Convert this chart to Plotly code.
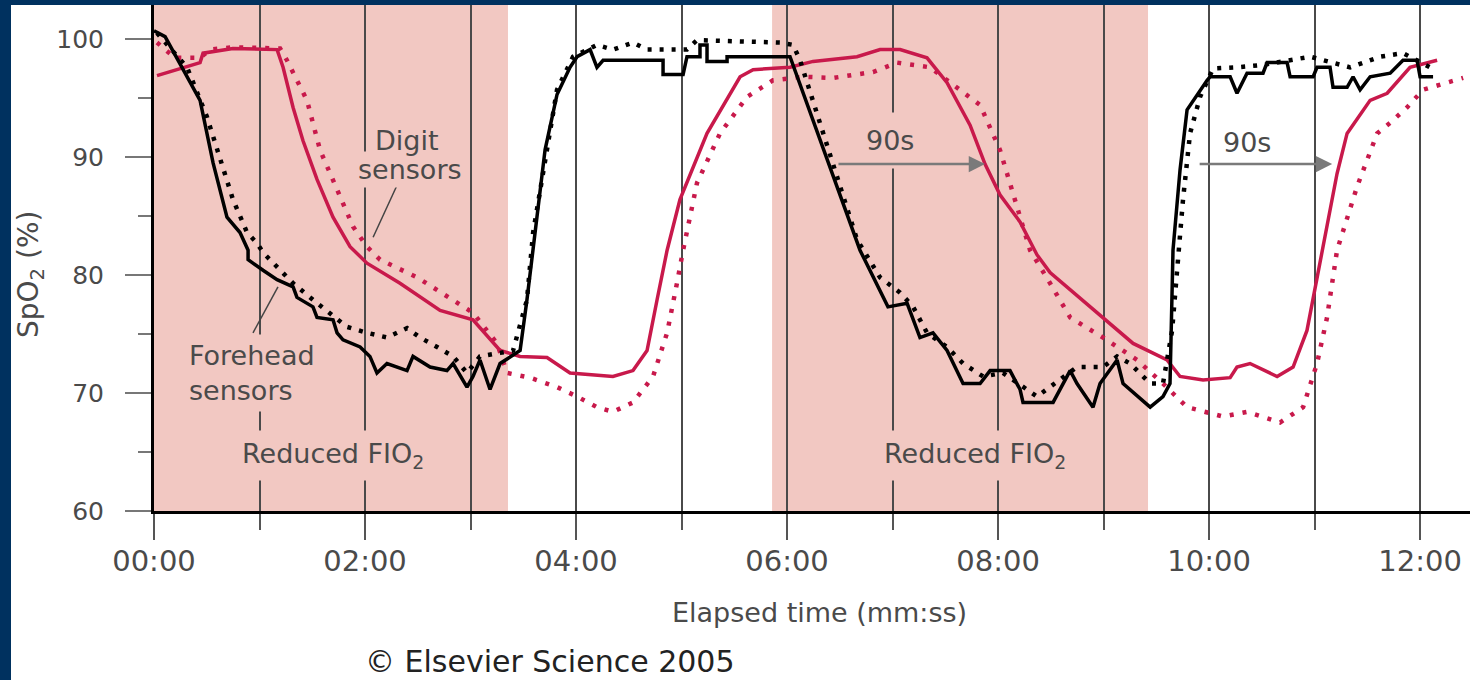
import plotly.graph_objects as go

# ---------------------------------------------------------
# DATA  (time in seconds, SpO2 in %)
# ---------------------------------------------------------
forehead_solid_t = [0, 6.3, 26.2, 33.6, 41.5, 48.9, 53.5, 53.5, 62.0, 70.0, 79.1, 81.3, 90.4, 92.7,
                    101.8, 104.1, 107.5, 117.2, 122.8, 126.8, 132.5, 143.9, 147.3, 157.0, 166.6,
                    170.1, 178.0, 181.4, 185.4, 191.1, 196.8, 208.2, 212.1, 215.6, 222.4, 229.2,
                    236.6, 240.6, 248.0, 251.9, 255.4, 289.5, 289.5, 300.9, 303.1, 310.5, 310.5,
                    314.5, 314.5, 325.9, 325.9, 361.7, 401.5, 417.4, 428.3, 435.6, 443.0, 451.0,
                    454.4, 460.1, 469.8, 475.5, 486.8, 492.5, 494.2, 511.3, 521.0, 524.9, 534.0,
                    538.0, 547.7, 551.1, 566.5, 573.8, 577.8, 579.0, 579.5, 583.5, 587.5, 598.9,
                    600.6, 612.0, 615.9, 621.6, 630.7, 633.0, 644.4, 646.1, 659.2, 661.4, 668.8,
                    670.5, 678.5, 681.9, 685.9, 691.6, 703.0, 710.3, 718.3, 720.0, 727.4]
forehead_solid_v = [100.7, 100.2, 94.8, 89.5, 84.9, 83.6, 82.1, 81.3, 80.4, 79.6, 79.0, 78.1, 77.3, 76.4,
                    76.2, 75.1, 74.5, 73.9, 73.1, 71.7, 72.5, 71.9, 73.1, 72.2, 71.9,
                    72.5, 70.5, 71.4, 72.8, 70.3, 72.5, 73.6, 77.9, 82.1, 90.6, 95.3,
                    97.6, 98.5, 99.1, 97.6, 98.2, 98.2, 97.0, 97.0, 98.5, 98.5, 99.5,
                    99.5, 98.1, 98.1, 98.5, 98.5, 82.1, 77.3, 77.6, 74.7, 75.1, 73.6,
                    72.5, 70.8, 70.8, 71.9, 71.9, 70.3, 69.2, 69.2, 71.9, 70.8, 68.8,
                    70.8, 72.8, 70.8, 68.8, 69.7, 70.8, 77.9, 82.1, 88.9, 94.0, 96.5,
                    96.8, 96.8, 95.4, 97.1, 97.1, 98.0, 98.0, 96.8, 96.8, 97.6, 97.6,
                    95.9, 95.9, 96.8, 95.7, 96.8, 97.1, 98.2, 98.2, 96.8, 96.8]

forehead_dot_t = [1.7, 18.8, 30.1, 37.5, 44.9, 52.9, 58.6, 62.0, 70.0, 79.1, 90.4, 100.1, 109.8, 121.1,
                  132.5, 143.9, 151.3, 161.0, 170.1, 178.0, 185.4, 196.8, 204.2, 212.1, 215.6, 229.2,
                  238.3, 251.9, 261.0, 272.4, 280.4, 303.1, 308.8, 356.0, 363.4, 367.4, 399.8, 412.9,
                  424.3, 431.7, 439.6, 451.0, 460.1, 471.5, 482.8, 502.2, 524.9, 539.7, 547.7, 555.1,
                  566.5, 573.8, 579.0, 585.2, 589.2, 594.9, 602.3, 615.9, 630.7, 657.5, 664.8, 680.2,
                  697.3, 710.3, 725.7, 727.4]
forehead_dot_v = [100.5, 97.6, 93.4, 90.0, 86.4, 83.6, 82.7, 81.9, 80.7, 79.3, 77.9, 76.8, 75.6, 75.1,
                  74.7, 75.5, 74.7, 73.9, 73.1, 71.7, 73.1, 73.4, 73.6, 77.9, 83.6, 95.7,
                  98.5, 99.5, 99.1, 99.7, 99.1, 99.1, 99.9, 99.7, 99.5, 98.2, 83.0, 79.8,
                  78.5, 77.3, 75.1, 73.9, 72.5, 71.4, 71.7, 69.7, 72.2, 72.2, 73.1, 72.5,
                  70.8, 70.8, 75.3, 86.4, 92.0, 95.1, 97.5, 97.6, 97.8, 98.5, 98.2, 97.6,
                  98.5, 98.8, 97.6, 97.4]

digit_solid_t = [1.7, 26.2, 27.9, 44.9, 70.0, 73.4, 79.1, 84.7, 92.7, 101.8, 111.5, 121.1, 139.9,
                 162.7, 181.4, 196.8, 208.2, 223.5, 236.6, 261.0, 272.4, 280.4, 286.1, 291.8, 299.1,
                 314.5, 333.3, 340.7, 361.7, 374.8, 399.8, 412.9, 424.3, 439.6, 451.0, 464.1, 472.6,
                 481.1, 492.5, 502.2, 509.6, 539.7, 556.8, 576.1, 583.5, 596.6, 612.0, 615.9, 623.3,
                 638.7, 647.8, 655.7, 661.4, 664.8, 672.8, 678.5, 691.6, 701.3, 714.3, 729.7]
digit_solid_v = [96.9, 98.0, 98.8, 99.2, 99.1, 97.6, 94.2, 91.4, 88.1, 84.9, 82.4, 81.0, 79.3,
                 77.0, 76.2, 73.6, 73.1, 73.0, 71.7, 71.4, 71.9, 73.6, 77.9, 82.1, 86.4,
                 92.0, 96.8, 97.4, 97.6, 98.1, 98.5, 99.1, 99.1, 98.4, 96.3, 92.7, 89.4,
                 86.8, 84.5, 81.7, 80.2, 76.4, 74.2, 72.8, 71.4, 71.1, 71.3, 72.2, 72.5,
                 71.4, 72.2, 75.3, 79.8, 82.1, 88.6, 92.0, 94.8, 95.4, 97.6, 98.2]

digit_dot_t = [1.7, 11.9, 26.2, 31.8, 44.9, 71.7, 75.6, 87.0, 94.4, 104.1, 113.2, 121.1, 128.5,
               149.6, 168.3, 181.4, 195.1, 200.8, 213.8, 229.2, 240.6, 251.9, 261.0, 272.4, 283.8,
               291.8, 297.4, 300.9, 308.8, 321.9, 337.3, 352.0, 369.1, 386.2, 408.9, 422.6, 441.3,
               456.7, 469.8, 481.1, 498.2, 509.6, 521.0, 539.7, 559.1, 573.8, 587.5, 608.0, 621.6,
               640.4, 653.5, 661.4, 667.1, 672.8, 684.2, 695.6, 703.0, 712.6, 721.7, 744.5]
digit_dot_v = [99.7, 98.4, 98.4, 99.1, 99.3, 99.2, 98.2, 94.8, 90.6, 87.2, 84.1, 82.4, 81.3,
               79.8, 78.1, 76.8, 74.2, 71.7, 71.3, 70.5, 69.7, 68.8, 68.4, 69.2, 71.4,
               75.1, 79.3, 82.1, 87.8, 92.0, 95.1, 96.5, 96.8, 96.7, 97.2, 98.0, 97.6,
               95.9, 94.4, 90.6, 82.1, 79.3, 76.4, 74.7, 72.8, 70.8, 68.8, 68.0, 68.4,
               67.5, 68.8, 72.5, 76.4, 82.1, 87.5, 92.0, 92.9, 94.2, 95.7, 96.7]

# reduced FIO2 periods (start, end) in seconds
reduced_fio2 = [(0, 201.3), (351.5, 565.3)]

x_tickvals = [0, 120, 240, 360, 480, 600, 720]
x_ticktext = ["00:00", "02:00", "04:00", "06:00", "08:00", "10:00", "12:00"]
y_tickvals = [60, 70, 80, 90, 100]

# ---------------------------------------------------------
# STYLE
# ---------------------------------------------------------
W, H = 1470, 680
ML, MR, MT, MB = 154, 0, 5, 169
PINK = "#F2C8C2"
RED = "rgb(200,25,75)"
NAVY = "#00315F"
TXT = "#4a4a4a"
FONT = "DejaVu Sans"

fig = go.Figure()

fig.add_trace(go.Scatter(x=digit_dot_t, y=digit_dot_v, mode="lines",
                         line=dict(color=RED, width=4.5, dash="4px,9px")))
fig.add_trace(go.Scatter(x=digit_solid_t, y=digit_solid_v, mode="lines",
                         line=dict(color=RED, width=3.5)))
fig.add_trace(go.Scatter(x=forehead_dot_t, y=forehead_dot_v, mode="lines",
                         line=dict(color="black", width=4.5, dash="4px,8px")))
fig.add_trace(go.Scatter(x=forehead_solid_t, y=forehead_solid_v, mode="lines",
                         line=dict(color="black", width=3.5)))

# shaded reduced-FIO2 periods
for x0, x1 in reduced_fio2:
    fig.add_shape(type="rect", xref="x", yref="paper", x0=x0, x1=x1, y0=0, y1=1,
                  fillcolor=PINK, line_width=0, layer="below")

# navy frame (left and top)
pw, ph = W - ML - MR, H - MT - MB
fig.add_shape(type="rect", xref="paper", yref="paper", x0=-ML / pw, x1=(11 - ML) / pw,
              y0=-MB / ph, y1=1 + MT / ph, fillcolor=NAVY, line_width=0, layer="above")
fig.add_shape(type="rect", xref="paper", yref="paper", x0=-ML / pw, x1=1,
              y0=1, y1=1 + MT / ph, fillcolor=NAVY, line_width=0, layer="above")

# leader lines
fig.add_shape(type="line", x0=138.8, y0=87.8, x1=124.6, y1=83.2, line=dict(color="#444", width=1.5))
fig.add_shape(type="line", x0=70.5, y0=79.0, x1=56.3, y1=75.1, line=dict(color="#444", width=1.5))

tfont = dict(family=FONT, size=27, color=TXT)
fig.add_annotation(x=145.6, y=88.9, text="sensors", showarrow=False, font=tfont,
                   bgcolor=PINK, borderpad=2)
fig.add_annotation(x=143.9, y=91.4, text="Digit", showarrow=False, font=tfont)
fig.add_annotation(x=16.5, y=71.7, text="Forehead<br>sensors", showarrow=False, font=tfont,
                   xanchor="left", align="left", bgcolor=PINK, borderpad=5)
fig.add_annotation(x=101.8, y=64.7, text="Reduced FIO<sub>2</sub>", showarrow=False, font=tfont,
                   bgcolor=PINK, borderpad=7)
fig.add_annotation(x=466.9, y=64.7, text="Reduced FIO<sub>2</sub>", showarrow=False, font=tfont,
                   bgcolor=PINK, borderpad=7)

# 90 s lag markers
fig.add_annotation(x=418.6, y=91.4, text="90s", showarrow=False, font=tfont,
                   bgcolor=PINK, borderpad=12)
fig.add_annotation(x=621.6, y=91.2, text="90s", showarrow=False, font=tfont,
                   bgcolor="white", borderpad=12)
for tail, head in [(388.4, 472.6), (593.8, 670.0)]:
    fig.add_annotation(x=head, y=89.4, ax=tail, ay=89.4, axref="x", ayref="y", text="",
                       showarrow=True, arrowhead=2, arrowsize=1.3, arrowwidth=2.5,
                       arrowcolor="#7a7a7a")

# titles and credit
fig.add_annotation(xref="paper", yref="paper", x=(820 - ML) / pw, y=(H - MB - 612) / ph,
                   xanchor="center", yanchor="middle",
                   text="Elapsed time (mm:ss)", showarrow=False,
                   font=dict(family=FONT, size=27, color=TXT))
fig.add_annotation(xref="paper", yref="paper", x=(30 - ML) / pw, y=(H - MB - 275) / ph,
                   xanchor="center", yanchor="middle",
                   text="SpO<sub>2</sub> (%)", showarrow=False, textangle=-90,
                   font=dict(family=FONT, size=28, color=TXT))
fig.add_annotation(xref="paper", yref="paper", x=(550 - ML) / pw, y=(H - MB - 681) / ph,
                   xanchor="center", yanchor="bottom",
                   text="© Elsevier Science 2005", showarrow=False,
                   font=dict(family=FONT, size=30, color="#222"))

fig.update_xaxes(range=[0, 748.4], tickmode="array", tickvals=x_tickvals, ticktext=x_ticktext,
                 ticks="outside", ticklen=26, tickwidth=1.5, tickcolor="#555",
                 ticklabelstandoff=-4,
                 showline=True, linecolor="black", linewidth=3,
                 showgrid=True, gridcolor="#4a4a4a", gridwidth=1.5, zeroline=False,
                 tickfont=dict(family=FONT, size=29, color=TXT),
                 minor=dict(tick0=0, dtick=60, ticks="outside", ticklen=16, tickwidth=1.5,
                            tickcolor="#555", showgrid=True, gridcolor="#4a4a4a", gridwidth=1.5))
fig.update_yaxes(range=[60, 102.88], tickmode="array", tickvals=y_tickvals,
                 ticks="outside", ticklen=26, tickwidth=2, tickcolor="#777",
                 ticklabelstandoff=16,
                 showline=True, linecolor="black", linewidth=3,
                 showgrid=False, zeroline=False,
                 tickfont=dict(family=FONT, size=25, color=TXT),
                 minor=dict(tick0=60, dtick=5, ticks="outside", ticklen=13, tickwidth=2,
                            tickcolor="#777"))

fig.update_layout(width=W, height=H, margin=dict(l=ML, r=MR, t=MT, b=MB),
                  plot_bgcolor="white", paper_bgcolor="white", showlegend=False)

fig.write_html("out.html", post_script="document.body.style.margin='0';",
               config={"displayModeBar": False})
